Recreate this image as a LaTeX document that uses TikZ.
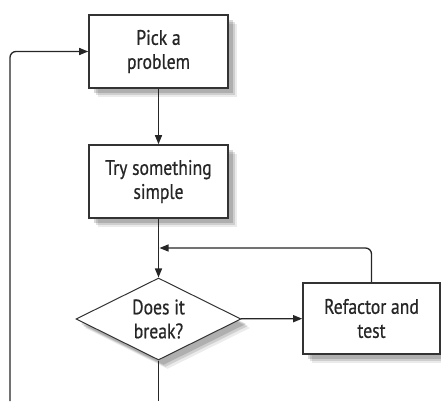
\documentclass[tikz,border=0pt]{standalone}
\usepackage{fontspec}
\setmainfont[FakeStretch=0.84,FakeBold=0.6]{PT Sans}
\usetikzlibrary{calc,shapes.geometric,shadows,arrows.meta}

\begin{document}
\begin{tikzpicture}[x=1pt,y=-1pt,
    procbox/.style={draw=black!80, line width=1.6pt, fill=white, align=center,
      minimum width=139pt, minimum height=73pt, inner sep=0pt,
      font=\fontsize{21}{24}\selectfont, text=black!85,
      drop shadow={shadow xshift=9pt, shadow yshift=-9pt, fill=black, opacity=0.08},
      drop shadow={shadow xshift=7pt, shadow yshift=-7pt, fill=black, opacity=0.12},
      drop shadow={shadow xshift=5pt, shadow yshift=-5pt, fill=black, opacity=0.15}},
    decision/.style={procbox, diamond, line width=1pt, aspect=2,
      minimum width=165pt, minimum height=82pt},
    flow/.style={-{Triangle[length=9pt,width=7pt]}, line width=1.3pt, black!85},
    line/.style={line width=1.3pt, black!85}]
     \useasboundingbox (0,0) rectangle (441,401);

     \coordinate (join)   at (158.5,248);
     \coordinate (bottom) at (158.5,401);
     \coordinate (loop)   at (10,401);

     \node[procbox] (pick) at (158.5,51.5) {Pick a\\problem};
     \node[procbox] (try) at (158.5,181.5) {Try something\\simple};
     \node[decision] (break) at (158.5,319) {Does it\\break?};
     \node[procbox, minimum width=137pt, minimum height=71pt] (refactor) at (371.5,318.5) {Refactor and\\test};

     \draw [flow] (pick) -- (try);
     \draw [flow] (try) -- (break);
     \draw [flow] (break) -- (refactor);
     \draw [flow, rounded corners=6pt, shorten >=1pt] (refactor.north) |- (join);
     \draw [line] (break.south) -- (bottom);
     \draw [flow, rounded corners=6pt] (loop) |- (pick.west);

  \end{tikzpicture}
\end{document}
